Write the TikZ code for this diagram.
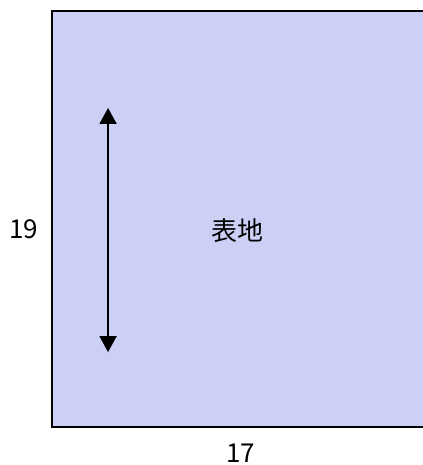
\documentclass[tikz,border=0pt]{standalone}
\usepackage{fontspec}
\setmainfont{Noto Sans CJK JP}
\usepackage{xcolor}
\usetikzlibrary{arrows.meta,positioning,calc}
\definecolor{clothblue}{RGB}{204,208,244}
\tikzset{
  label/.style={font=\fontsize{26}{30}\selectfont, inner sep=0pt},
  grain/.style={line width=1.8pt,{Triangle[length=16pt,width=17pt]}-{Triangle[length=16pt,width=17pt]}}
}

\begin{document}
\begin{tikzpicture}[x=21.9pt,y=21.9pt]
\useasboundingbox (-2.374,-1.735) rectangle (16.9,19.5);
\draw[line width=1.8pt, fill=clothblue] (0,0) rectangle (17,19);

\coordinate (top) at (2.56,14.57);
\coordinate (bot) at (2.56,3.42);
\draw[grain] (bot) -- (top);

\node[label] (side) at (-1.28,9.04) {19};
\node[label] (base) at (8.63,-1.19) {17};
\node[label] (name) at (8.49,8.95) {表地};
\end{tikzpicture}
\end{document}
